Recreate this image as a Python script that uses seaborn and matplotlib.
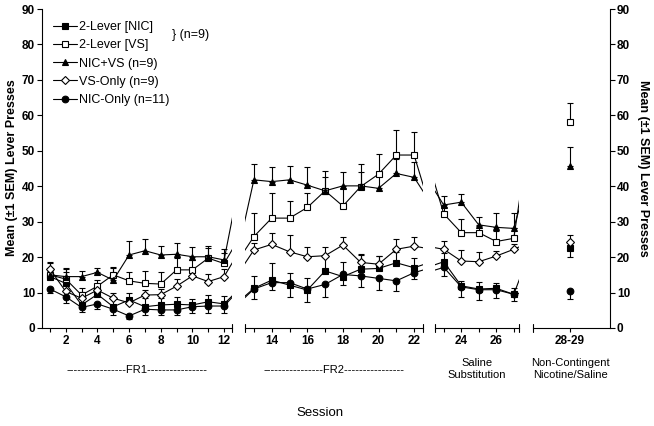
import matplotlib
matplotlib.use("Agg")
import matplotlib.pyplot as plt
import matplotlib.transforms as mtransforms
import pandas as pd
import seaborn as sns

sns.set_style("ticks", {"axes.edgecolor": "black", "xtick.color": "black",
                        "ytick.color": "black", "text.color": "black"})
plt.rcParams['font.family'] = ['Liberation Sans', 'DejaVu Sans']

# sessions 1-27, then the pooled non-contingent test (28-29)
sessions = list(range(1, 28))
final_x = 28
final_label = "28-29"

labels = ["2-Lever [NIC]", "2-Lever [VS]", "NIC+VS (n=9)", "VS-Only (n=9)", "NIC-Only (n=11)"]

lev_nic = [14.5, 12.6, 6.5, 9.5, 6.0, 7.9, 6.0, 6.5, 6.7, 6.5, 7.4, 6.8,
           11.2, 13.5, 12.1, 10.7, 16.1, 14.5, 16.6, 16.8, 18.4, 17.0,
           18.7, 11.9, 11.0, 11.2, 9.5]
lev_nic_sem = [1.5, 4.0, 2.5, 2.0, 2.7, 2.0, 2.4, 2.0, 2.0, 1.8, 1.8, 2.2,
               3.5, 4.7, 3.5, 3.5, 4.0, 4.2, 4.0, 3.6, 3.0, 2.7,
               2.4, 1.5, 2.1, 1.5, 1.8]
lev_vs = [15.0, 13.8, 9.3, 11.8, 15.0, 13.3, 12.6, 12.4, 16.4, 16.4, 19.7, 18.2,
          25.8, 31.0, 31.0, 34.0, 38.7, 34.4, 39.9, 43.4, 48.8, 48.8,
          32.2, 26.9, 26.9, 24.4, 25.3]
lev_vs_sem = [2.0, 2.0, 1.9, 1.7, 1.8, 2.6, 3.5, 3.3, 3.4, 2.8, 2.8, 3.0,
              6.7, 7.0, 4.9, 4.0, 4.0, 5.0, 6.3, 5.6, 7.0, 6.4,
              2.0, 3.8, 2.0, 3.0, 3.0]
nic_vs = [15.0, 14.5, 14.5, 15.7, 13.5, 20.6, 21.8, 20.6, 20.8, 20.1, 20.1, 19.2,
          41.8, 41.3, 41.8, 40.3, 38.7, 40.1, 40.1, 39.4, 43.6, 42.5,
          34.7, 35.5, 29.1, 28.4, 28.1]
nic_vs_sem = [3.2, 2.3, 1.6, 1.1, 3.8, 4.0, 3.3, 2.5, 3.1, 2.8, 3.0, 3.0,
              4.4, 4.0, 3.9, 5.0, 5.7, 4.0, 4.0, 4.0, 4.0, 4.3,
              2.5, 2.3, 2.2, 4.0, 4.3]
vs_only = [16.6, 10.3, 8.4, 10.7, 8.4, 7.1, 9.3, 9.4, 11.8, 14.7, 13.1, 14.5,
           22.0, 23.6, 21.5, 20.1, 20.4, 23.4, 18.5, 18.0, 22.2, 23.1,
           22.2, 18.9, 18.7, 20.3, 22.2]
vs_only_sem = [2.0, 2.0, 1.8, 1.5, 1.6, 1.5, 1.5, 1.5, 2.0, 2.0, 2.1, 2.1,
               2.0, 3.1, 4.7, 2.7, 2.4, 2.2, 2.3, 2.4, 2.8, 2.7,
               2.4, 3.1, 2.8, 1.5, 1.5]
nic_only = [11.0, 8.8, 5.8, 6.8, 5.3, 3.4, 5.3, 5.1, 5.1, 6.0, 6.2, 6.2,
            11.0, 12.8, 12.8, 11.0, 12.3, 15.1, 14.7, 14.0, 13.3, 15.6,
            17.1, 11.6, 10.8, 10.8, 9.5]
nic_only_sem = [1.0, 1.8, 1.2, 1.5, 1.5, 1.0, 1.5, 1.5, 1.5, 1.9, 2.0, 2.1,
                2.8, 2.1, 4.0, 3.7, 3.5, 3.0, 3.0, 3.3, 2.8, 1.9,
                2.4, 2.8, 2.9, 2.4, 1.9]

final_means = [22.5, 58.2, 45.7, 24.4, 10.5]
final_sems = [2.6, 5.4, 5.3, 1.8, 2.4]

# +1 = bar drawn upward, -1 = downward
session_dirs = [1, 1, 1, 1, -1]
final_dirs = [-1, 1, 1, 1, -1]

means = [lev_nic, lev_vs, nic_vs, vs_only, nic_only]
sems = [lev_nic_sem, lev_vs_sem, nic_vs_sem, vs_only_sem, nic_only_sem]
markers = ["s", "s", "^", "D", "o"]
faces = ["black", "white", "black", "white", "black"]
msizes = [4.6, 4.8, 5.0, 3.6, 4.8]

W, H = 654, 426
fig = plt.figure(figsize=(W / 100, H / 100), dpi=100)


def box(x0, x1, top=9, bottom=328):
    return [x0 / W, (H - bottom) / H, (x1 - x0) / W, (bottom - top) / H]


ax1 = fig.add_axes(box(42, 232))
ax2 = fig.add_axes(box(245, 423))
ax3 = fig.add_axes(box(435, 519))
ax4 = fig.add_axes(box(533, 610))
xlims = [(0.5, 12.5), (12.5, 22.5), (22.5, 27.3), (25.9, 30.3)]
axes = [ax1, ax2, ax3, ax4]


def yerr(sem, d):
    zero = [0] * len(sem)
    return [sem, zero] if d < 0 else [zero, sem]


for ax in [ax1, ax2, ax3]:
    for i in range(5):
        ax.errorbar(sessions, means[i], yerr=yerr(sems[i], session_dirs[i]),
                    fmt="none", ecolor="black", elinewidth=0.8, capsize=2.5,
                    capthick=0.8, zorder=2)
    for i in range(5):
        df = pd.DataFrame({"session": sessions + [final_x],
                           "presses": means[i] + [final_means[i]]})
        sns.lineplot(data=df, x="session", y="presses", ax=ax, color="black",
                     linewidth=0.8, marker=markers[i], markersize=msizes[i],
                     markerfacecolor=faces[i], markeredgecolor="black",
                     markeredgewidth=0.8, errorbar=None, legend=False,
                     label=labels[i], zorder=3)

for i in range(5):
    ax4.errorbar([final_x], [final_means[i]], yerr=yerr([final_sems[i]], final_dirs[i]),
                 fmt="none", ecolor="black", elinewidth=0.8, capsize=2.5,
                 capthick=0.8, zorder=2)
    df = pd.DataFrame({"session": [final_x], "presses": [final_means[i]]})
    sns.lineplot(data=df, x="session", y="presses", ax=ax4, color="black",
                 linewidth=0, marker=markers[i], markersize=msizes[i],
                 markerfacecolor=faces[i], markeredgecolor="black",
                 markeredgewidth=0.8, errorbar=None, legend=False, zorder=3)

major = [list(range(2, 13, 2)), list(range(14, 23, 2)), [24, 26], [final_x]]
minor = [list(range(1, 12, 2)), list(range(13, 22, 2)), [23, 25, 27], []]

for ax, xl, mj, mn in zip(axes, xlims, major, minor):
    ax.set_xlim(*xl)
    ax.set_ylim(0, 90)
    ax.set(xlabel="", ylabel="")
    ax.set_xticks(mj)
    ax.set_xticks(mn, minor=True)
    ax.tick_params(axis="x", which="both", direction="out", length=3.2,
                   width=0.8, labelsize=8.5, pad=2)
    for lab in ax.get_xticklabels():
        lab.set_fontweight("bold")
    ax.spines["top"].set_visible(False)
    for s in ax.spines.values():
        s.set_linewidth(0.8)
    # end bars of each axis piece
    trans = mtransforms.blended_transform_factory(ax.transData, ax.transAxes)
    ends = []
    if ax is not ax1:
        ends.append(xl[0])
    if ax is not ax4:
        ends.append(xl[1])
    for e in ends:
        ax.plot([e, e], [-0.012, 0.012], transform=trans, clip_on=False,
                color="black", linewidth=0.8)

ax4.set_xticklabels([final_label], fontweight="bold")

yt = list(range(0, 91, 10))
ax1.set_yticks(yt)
ax1.spines["right"].set_visible(False)
ax1.tick_params(axis="y", direction="out", length=3.5, width=0.8, labelsize=8.5, pad=1.5)
for lab in ax1.get_yticklabels():
    lab.set_fontweight("bold")

for ax in [ax2, ax3]:
    ax.spines["left"].set_visible(False)
    ax.spines["right"].set_visible(False)
    ax.set_yticks([])

ax4.spines["left"].set_visible(False)
ax4.yaxis.tick_right()
ax4.set_yticks(yt)
ax4.tick_params(axis="y", direction="out", length=3.5, width=0.8, labelsize=8.5, pad=1.5)
for lab in ax4.get_yticklabels():
    lab.set_fontweight("bold")

ax1.legend(loc="upper left", bbox_to_anchor=(0.032, 0.978), borderaxespad=0,
           frameon=False, fontsize=9, handlelength=1.9, handletextpad=0.2,
           labelspacing=0.5, borderpad=0.4)
fig.text(172 / W, 1 - 35 / H, "} (n=9)", fontsize=9, va="center", ha="left")

ylab = "Mean (\u00b11 SEM) Lever Presses"
fig.text(12 / W, 1 - 168 / H, ylab, rotation=90, fontsize=9, fontweight="bold",
         ha="center", va="center")
fig.text(643 / W, 1 - 168 / H, ylab, rotation=270, fontsize=9, fontweight="bold",
         ha="center", va="center")

dash = "-" * 16
fig.text(137 / W, 1 - 370 / H, dash + "FR1" + dash, fontsize=8, ha="center", va="center")
fig.text(334 / W, 1 - 370 / H, dash + "FR2" + dash, fontsize=8, ha="center", va="center")
fig.text(477 / W, 1 - 369 / H, "Saline\nSubstitution", fontsize=8, ha="center",
         va="center", linespacing=1.2)
fig.text(570 / W, 1 - 369 / H, "Non-Contingent\nNicotine/Saline", fontsize=8,
         ha="center", va="center", linespacing=1.2)
fig.text(320 / W, 1 - 413 / H, "Session", fontsize=9.5, ha="center", va="center")

fig.savefig("out.png", dpi=100)
